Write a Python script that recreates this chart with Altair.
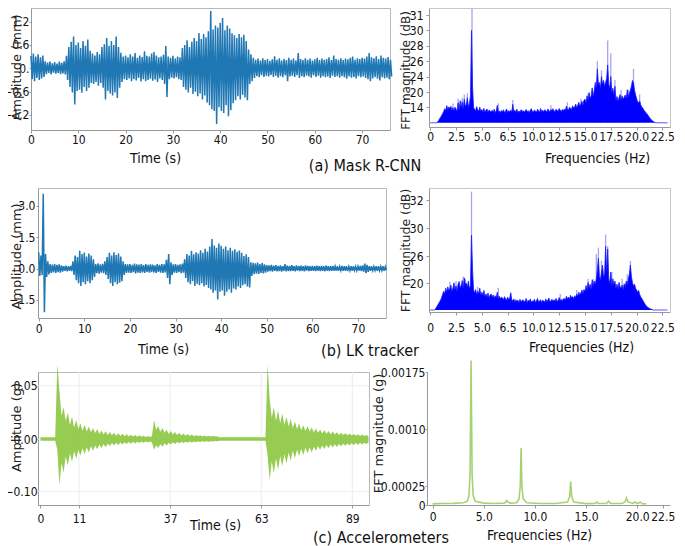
import altair as alt
import pandas as pd

NARROW = "Liberation Sans Narrow, DejaVu Sans Condensed, Lato, sans-serif"
WIDE = "DejaVu Sans, Verdana, sans-serif"

# ---------------- (a) Mask R-CNN : displacement envelope (max/min every 0.5 s) -------------
A_STEP = 0.5
A_UP = [0.32, 0.38, 0.30, 0.36, 0.28, 0.33, 0.18, 0.15, 0.17, 0.13,
        0.16, 0.12, 0.17, 0.14, 0.18, 0.32, 0.55, 0.68, 0.82, 0.60,
        0.66, 0.52, 0.70, 0.58, 0.74, 0.45, 0.38, 0.33, 0.42, 0.36,
        0.55, 0.62, 0.78, 0.58, 0.70, 0.60, 0.82, 0.55, 0.40, 0.30,
        0.33, 0.28, 0.36, 0.30, 0.39, 0.27, 0.33, 0.29, 0.44, 0.32,
        0.30, 0.38, 0.42, 0.33, 0.28, 0.30, 0.35, 0.57, 0.30, 0.27,
        0.32, 0.25, 0.30, 0.28, 0.52, 0.60, 0.72, 0.55, 0.68, 0.78,
        0.70, 0.91, 0.75, 0.88, 0.80, 0.95, 1.47, 1.00, 1.10, 1.05,
        1.17, 1.29, 0.98, 1.10, 1.02, 0.90, 0.85, 0.78, 0.88, 0.80,
        0.86, 0.70, 0.48, 0.36, 0.27, 0.22, 0.25, 0.20, 0.26, 0.21,
        0.24, 0.19, 0.23, 0.31, 0.22, 0.26, 0.20, 0.24, 0.21, 0.27,
        0.22, 0.25, 0.20, 0.39, 0.24, 0.21, 0.26, 0.22, 0.25, 0.20,
        0.23, 0.27, 0.21, 0.25, 0.22, 0.24, 0.28, 0.21, 0.33, 0.24,
        0.22, 0.26, 0.21, 0.25, 0.23, 0.27, 0.30, 0.22, 0.26, 0.24,
        0.27, 0.25, 0.30, 0.39, 0.28, 0.26, 0.31, 0.24, 0.33, 0.27,
        0.25, 0.29, 0.22]
A_LO = [-0.28, -0.33, -0.25, -0.30, -0.26, -0.22, -0.15, -0.12, -0.16, -0.11,
        -0.14, -0.12, -0.15, -0.13, -0.16, -0.30, -0.48, -0.62, -0.93, -0.58,
        -0.55, -0.63, -0.48, -0.58, -0.50, -0.38, -0.40, -0.35, -0.45, -0.38,
        -0.50, -0.80, -0.58, -0.65, -0.70, -0.62, -0.76, -0.50, -0.35, -0.28,
        -0.30, -0.26, -0.33, -0.28, -0.31, -0.25, -0.34, -0.28, -0.33, -0.30,
        -0.27, -0.32, -0.29, -0.35, -0.26, -0.30, -0.40, -0.74, -0.28, -0.24,
        -0.26, -0.23, -0.28, -0.30, -0.48, -0.55, -0.62, -0.50, -0.66, -0.60,
        -0.72, -0.65, -0.80, -0.70, -0.88, -0.95, -1.05, -1.10, -1.43, -1.00,
        -1.10, -1.15, -0.95, -1.23, -1.08, -0.90, -0.82, -0.72, -0.80, -0.68,
        -0.75, -0.82, -0.40, -0.33, -0.25, -0.20, -0.23, -0.18, -0.22, -0.19,
        -0.21, -0.17, -0.22, -0.19, -0.24, -0.20, -0.23, -0.18, -0.33, -0.21,
        -0.19, -0.22, -0.18, -0.25, -0.20, -0.23, -0.19, -0.21, -0.24, -0.18,
        -0.22, -0.19, -0.24, -0.20, -0.23, -0.21, -0.25, -0.19, -0.22, -0.20,
        -0.24, -0.20, -0.23, -0.27, -0.21, -0.24, -0.22, -0.26, -0.20, -0.23,
        -0.21, -0.25, -0.28, -0.33, -0.26, -0.22, -0.27, -0.31, -0.23, -0.26,
        -0.24, -0.28, -0.21]

# ---------------- (b) LK tracker : displacement envelope (every 0.5 s) -------------
B_STEP = 0.5
B_UP = [0.78, 0.62, 3.57, 0.70, 0.35, 0.22, 0.19, 0.21, 0.18, 0.20,
        0.15, 0.12, 0.14, 0.11, 0.13, 0.35, 0.62, 0.55, 0.85, 0.70,
        0.77, 0.58, 0.72, 0.62, 0.45, 0.22, 0.25, 0.20, 0.23, 0.35,
        0.55, 0.75, 0.62, 0.78, 0.65, 0.72, 0.58, 0.35, 0.22, 0.20,
        0.22, 0.18, 0.24, 0.20, 0.19, 0.22, 0.17, 0.21, 0.18, 0.20,
        0.19, 0.16, 0.21, 0.18, 0.22, 0.20, 0.42, 0.69, 0.30, 0.20,
        0.22, 0.18, 0.20, 0.24, 0.45, 0.70, 0.62, 0.85, 0.68, 0.78,
        0.72, 0.88, 0.75, 0.95, 0.82, 1.05, 1.41, 1.10, 1.00, 1.20,
        1.09, 0.95, 1.05, 0.88, 1.00, 0.85, 0.92, 0.80, 0.86, 0.75,
        0.60, 0.68, 0.55, 0.30, 0.28, 0.25, 0.29, 0.22, 0.26, 0.20,
        0.17, 0.15, 0.18, 0.14, 0.16, 0.13, 0.15, 0.12, 0.21, 0.14,
        0.13, 0.16, 0.12, 0.15, 0.13, 0.14, 0.12, 0.15, 0.13, 0.11,
        0.13, 0.12, 0.14, 0.11, 0.13, 0.12, 0.14, 0.11, 0.12, 0.13,
        0.11, 0.12, 0.10, 0.13, 0.11, 0.12, 0.10, 0.11, 0.12, 0.10,
        0.11, 0.13, 0.15, 0.24, 0.18, 0.12, 0.11, 0.10, 0.12, 0.11,
        0.10, 0.12, 0.09]
B_LO = [-0.35, -0.30, -2.08, -0.40, -0.28, -0.20, -0.18, -0.21, -0.17, -0.19,
        -0.14, -0.11, -0.13, -0.10, -0.12, -0.30, -0.55, -0.70, -0.83, -0.65,
        -0.75, -0.60, -0.70, -0.55, -0.40, -0.22, -0.24, -0.19, -0.22, -0.30,
        -0.50, -0.70, -0.83, -0.65, -0.75, -0.68, -0.60, -0.30, -0.21, -0.19,
        -0.21, -0.17, -0.23, -0.19, -0.20, -0.18, -0.21, -0.16, -0.19, -0.17,
        -0.18, -0.20, -0.16, -0.19, -0.21, -0.18, -0.45, -0.75, -0.30, -0.19,
        -0.20, -0.17, -0.22, -0.19, -0.45, -0.65, -0.75, -0.60, -0.83, -0.72,
        -0.80, -0.70, -0.85, -0.78, -0.92, -1.00, -1.15, -1.05, -1.47, -1.10,
        -1.05, -1.30, -1.10, -1.00, -1.15, -0.95, -1.00, -0.85, -0.92, -0.80,
        -0.75, -0.85, -0.90, -0.35, -0.27, -0.24, -0.26, -0.21, -0.23, -0.19,
        -0.14, -0.12, -0.15, -0.11, -0.13, -0.12, -0.14, -0.11, -0.13, -0.12,
        -0.12, -0.11, -0.13, -0.10, -0.12, -0.11, -0.13, -0.10, -0.12, -0.11,
        -0.11, -0.12, -0.10, -0.12, -0.11, -0.13, -0.10, -0.12, -0.11, -0.10,
        -0.10, -0.11, -0.09, -0.11, -0.10, -0.12, -0.10, -0.11, -0.09, -0.10,
        -0.10, -0.12, -0.14, -0.22, -0.16, -0.11, -0.10, -0.09, -0.11, -0.10,
        -0.09, -0.11, -0.08]

# ---------------- (a)/(b) FFT magnitude (dB), every 0.1 Hz, plus light spikes -------------
F_STEP = 0.1
SA_DB = [8, 8, 8, 8, 8, 8, 8, 8.3, 8.8, 9.5,
         10.2, 10.8, 11.5, 12.4, 13.5, 12.8, 14.6, 13.2, 14.2, 13.6,
         14.4, 13.0, 13.9, 12.8, 14.1, 13.3, 12.6, 15.8, 13.1, 16.6,
         14.0, 16.2, 13.5, 17.2, 14.5, 15.0, 17.8, 14.2, 15.5, 18.5,
         30.0, 21.5, 14.0, 13.2, 12.8, 14.3, 13.0, 12.6, 14.1, 12.5,
         13.2, 12.4, 13.6, 12.2, 12.9, 13.4, 12.1, 13.0, 12.5, 12.3,
         12.9, 12.2, 13.3, 12.0, 12.7, 14.8, 12.3, 12.6, 12.0, 12.8,
         12.2, 13.1, 12.0, 12.5, 13.4, 12.1, 12.7, 12.3, 13.0, 12.1,
         15.2, 12.5, 12.9, 12.2, 13.3, 12.0, 12.6, 12.2, 13.1, 12.4,
         12.8, 12.1, 12.6, 13.2, 12.3, 12.7, 12.0, 12.9, 13.5, 12.4,
         12.2, 13.0, 12.5, 12.1, 13.3, 12.6, 12.2, 13.6, 12.4, 12.9,
         12.3, 13.1, 12.6, 12.2, 13.4, 12.8, 12.3, 13.2, 12.7, 13.5,
         12.6, 12.4, 13.3, 12.8, 12.5, 13.6, 12.9, 12.4, 13.2, 12.7,
         13.4, 12.8, 14.5, 13.2, 13.0, 14.1, 13.6, 13.3, 14.6, 13.8,
         14.2, 15.3, 13.9, 14.8, 16.0, 14.5, 15.2, 16.4, 15.0, 16.8,
         17.2, 16.0, 18.5, 17.0, 19.8, 17.6, 18.4, 21.0, 18.2, 20.5,
         22.5, 21.0, 25.0, 22.0, 22.5, 21.0, 24.0, 22.0, 23.0, 21.5,
         22.5, 23.5, 25.5, 22.0, 21.0, 24.0, 20.0, 21.0, 19.0, 21.5,
         17.0, 18.2, 16.5, 17.8, 19.0, 16.8, 18.5, 17.2, 18.0, 18.8,
         17.5, 20.6, 18.0, 19.5, 20.5, 21.5, 23.0, 22.5, 20.5, 19.0,
         17.5, 16.2, 15.8, 16.5, 15.0, 14.2, 13.8, 13.0, 12.5, 12.0,
         11.5, 11.0, 10.4, 9.8, 9.3, 8.9, 8.6, 8.3, 8.1, 8.0,
         8, 8, 8, 8, 8, 8, 8, 8, 8, 8,
         8]
SA_FLOOR = 8
SA_PEAK_F = [1.6, 2.2, 2.7, 3.1, 3.3, 3.6, 4.05, 6.6, 8.0, 11.7, 13.3, 14.6, 15.3,
             15.7, 16.2, 16.6, 17.2, 17.5, 17.9, 18.5, 19.2, 19.7, 20.3]
SA_PEAK_DB = [14.8, 15.5, 17.5, 17.8, 19.0, 19.5, 31.4, 15.6, 16.9, 14.8, 16.0, 17.5, 19.5,
              21.2, 26.0, 24.8, 28.7, 27.0, 23.1, 20.5, 20.6, 25.0, 19.0]

SB_DB = [14, 14, 14, 14, 14, 14.2, 14.6, 15.0, 15.4, 15.8,
         16.2, 16.8, 17.5, 18.2, 17.6, 18.9, 18.1, 19.2, 18.4, 18.8,
         19.6, 18.2, 18.9, 20.1, 18.6, 19.4, 18.3, 19.8, 20.4, 19.0,
         19.5, 20.6, 19.0, 21.2, 19.8, 20.0, 19.2, 20.5, 18.8, 19.5,
         29.0, 23.0, 18.5, 17.8, 18.6, 17.5, 18.2, 17.6, 18.9, 17.4,
         18.0, 17.3, 18.4, 17.1, 17.6, 17.0, 17.8, 16.8, 17.3, 17.6,
         16.9, 17.4, 16.7, 17.2, 16.8, 18.0, 16.6, 17.1, 16.5, 16.9,
         16.7, 16.3, 17.0, 16.5, 16.2, 16.9, 16.4, 16.6, 17.8, 16.3,
         16.1, 16.5, 15.8, 16.3, 15.9, 16.2, 15.7, 16.4, 15.9, 16.1,
         16.3, 15.8, 16.0, 16.6, 15.7, 16.2, 15.9, 16.5, 15.8, 16.0,
         15.9, 16.4, 15.7, 16.1, 16.6, 15.8, 16.0, 16.3, 15.7, 16.2,
         16.0, 15.8, 16.5, 15.9, 16.2, 16.7, 15.8, 16.1, 16.4, 15.9,
         16.3, 16.0, 16.6, 15.9, 16.2, 16.8, 16.1, 16.4, 16.0, 16.5,
         16.6, 16.2, 17.1, 16.5, 16.9, 16.4, 17.3, 16.8, 17.0, 16.6,
         17.2, 16.8, 17.6, 17.1, 18.0, 17.4, 17.8, 18.5, 17.7, 18.6,
         18.2, 19.5, 18.6, 20.2, 19.0, 19.8, 18.8, 20.8, 19.4, 20.5,
         19.8, 21.0, 23.0, 25.5, 21.5, 20.8, 22.5, 24.0, 21.5, 22.0,
         27.4, 22.5, 27.0, 21.0, 20.0, 22.5, 19.5, 21.0, 19.8, 20.5,
         19.0, 19.8, 18.8, 20.2, 19.2, 18.9, 19.6, 18.6, 19.9, 19.3,
         20.5, 19.6, 21.0, 22.0, 24.0, 21.5, 20.2, 19.4, 19.8, 18.9,
         18.5, 18.0, 18.4, 17.5, 17.0, 16.6, 16.2, 15.8, 15.4, 15.0,
         14.8, 14.6, 14.4, 14.3, 14.2, 14.1, 14.0, 14.0, 14.0, 14.0,
         14, 14, 14, 14, 14, 14, 14, 14, 14, 14,
         14]
SB_FLOOR = 14
SB_PEAK_F = [1.9, 2.5, 3.2, 3.4, 4.0, 4.6, 6.6, 7.8, 12.6, 14.2, 15.3, 15.8,
             16.1, 16.3, 16.6, 17.0, 17.2, 17.6, 18.6, 19.1, 19.4]
SB_PEAK_DB = [20.3, 20.5, 21.5, 21.0, 32.6, 19.2, 19.0, 18.0, 17.6, 18.5, 21.0, 20.9,
              26.3, 27.2, 25.0, 29.1, 27.4, 22.5, 21.0, 22.0, 24.9]

# ---------------- (c) Accelerometers : acceleration envelope (every 0.6 s) -------------
C_STEP = 0.6
C_UP = [0.002, 0.002, 0.002, 0.002, 0.002, 0.002, 0.002, 0.002,
        0.07, 0.045, 0.022, 0.030, 0.017, 0.025, 0.013, 0.021, 0.011, 0.018,
        0.0095, 0.015, 0.008, 0.0135, 0.0072, 0.012, 0.0065, 0.0105, 0.0058, 0.0095,
        0.005, 0.0082, 0.0045, 0.0075, 0.004, 0.0068, 0.0037, 0.0062, 0.0034, 0.0057,
        0.0031, 0.0052, 0.0029, 0.0047, 0.0027, 0.0043, 0.0025, 0.0040, 0.0024, 0.0037,
        0.0023, 0.0034, 0.0022, 0.0031, 0.0021, 0.0028,
        0.018, 0.009, 0.0125, 0.007, 0.0105, 0.006, 0.009, 0.005, 0.0078, 0.0045,
        0.0068, 0.004, 0.006, 0.0036, 0.0054, 0.0033, 0.0049, 0.0031, 0.0045, 0.0029,
        0.0041, 0.0028, 0.0038, 0.0027, 0.0035, 0.0026, 0.0033, 0.0026, 0.0031, 0.0025,
        0.0029,
        0.002, 0.002, 0.002, 0.002, 0.002, 0.002, 0.002, 0.002, 0.002, 0.002,
        0.002, 0.002, 0.002, 0.002, 0.002, 0.002, 0.002, 0.002, 0.002, 0.002,
        0.002, 0.002, 0.002,
        0.07, 0.037, 0.020, 0.030, 0.017, 0.027, 0.015, 0.024, 0.013, 0.021,
        0.012, 0.019, 0.0105, 0.0165, 0.0095, 0.0148, 0.0085, 0.013, 0.0078, 0.0122,
        0.0072, 0.011, 0.0066, 0.010, 0.006, 0.0092, 0.0055, 0.0085, 0.0051, 0.0078,
        0.0047, 0.0072, 0.0044, 0.0066, 0.0041, 0.0061, 0.0039, 0.0057, 0.0037, 0.0053,
        0.0035, 0.0050, 0.0033, 0.0047, 0.0031, 0.0044, 0.0030, 0.0041, 0.0029]
C_LO = [-0.003, -0.003, -0.003, -0.003, -0.003, -0.003, -0.003, -0.003,
        -0.02, -0.087, -0.045, -0.063, -0.033, -0.050, -0.027, -0.043, -0.023, -0.037,
        -0.020, -0.031, -0.017, -0.028, -0.015, -0.025, -0.013, -0.022, -0.012, -0.019,
        -0.010, -0.017, -0.009, -0.015, -0.008, -0.013, -0.0072, -0.012, -0.0066, -0.011,
        -0.006, -0.010, -0.0056, -0.0092, -0.0052, -0.0085, -0.0048, -0.0078, -0.0045, -0.0072,
        -0.0043, -0.0066, -0.0041, -0.0060, -0.0040, -0.0055,
        -0.020, -0.012, -0.0165, -0.009, -0.014, -0.0075, -0.012, -0.0065, -0.010, -0.0058,
        -0.009, -0.0052, -0.008, -0.0048, -0.0072, -0.0045, -0.0066, -0.0042, -0.0060, -0.0040,
        -0.0056, -0.0038, -0.0052, -0.0037, -0.0049, -0.0036, -0.0046, -0.0035, -0.0043, -0.0034,
        -0.0040,
        -0.003, -0.003, -0.003, -0.003, -0.003, -0.003, -0.003, -0.003, -0.003, -0.003,
        -0.003, -0.003, -0.003, -0.003, -0.003, -0.003, -0.003, -0.003, -0.003, -0.003,
        -0.003, -0.003, -0.003,
        -0.03, -0.078, -0.042, -0.065, -0.036, -0.058, -0.032, -0.051, -0.028, -0.046,
        -0.025, -0.041, -0.022, -0.036, -0.020, -0.032, -0.018, -0.030, -0.016, -0.027,
        -0.015, -0.025, -0.014, -0.022, -0.013, -0.020, -0.012, -0.0185, -0.011, -0.017,
        -0.010, -0.0155, -0.0095, -0.0145, -0.009, -0.0135, -0.0085, -0.0125, -0.008, -0.0118,
        -0.0076, -0.011, -0.0072, -0.0104, -0.0068, -0.0098, -0.0065, -0.0092, -0.0062]

# ---------------- (c) FFT magnitude (g) -------------
SC_F = [0.0, 0.5, 1.0, 2.0, 3.0, 3.4, 3.55, 3.66, 3.76, 3.86, 3.97, 4.15, 5.0, 6.0,
        7.0, 7.15, 7.25, 7.35, 7.6, 8.2, 8.45, 8.57, 8.65, 8.73, 8.85, 9.2, 10.5, 12.0,
        13.2, 13.4, 13.5, 13.6, 13.8, 15.0, 15.9, 16.05, 16.2, 17.0, 17.2, 17.4, 18.5,
        18.8, 18.96, 19.1, 19.6, 19.8, 20.0, 20.2, 20.3, 20.45, 20.9]
SC_G = [0.000015, 0.000018, 0.00002, 0.000022, 0.00003, 0.00005, 0.00012, 0.0004,
        0.0019, 0.0004, 0.00012, 0.00005, 0.000025, 0.00002, 0.000025, 0.00004, 0.00006,
        0.00004, 0.000025, 0.00003, 0.00008, 0.00025, 0.00075, 0.00025, 0.00008, 0.00003,
        0.00002, 0.00002, 0.00004, 0.00011, 0.00031, 0.00011, 0.00004, 0.000018, 0.00002,
        0.00004, 0.00002, 0.00002, 0.00005, 0.00002, 0.00002, 0.00004, 0.00009, 0.00004,
        0.00002, 0.00004, 0.00002, 0.00003, 0.00004, 0.00002, 0.000015]

C_GRID_T = [11, 37, 63, 89]
C_GRID_V = [-0.10, 0.0, 0.05]

CAPTIONS = ["(a) Mask R-CNN", "(b) LK tracker", "(c) Accelerometers"]

# ---------------- data frames ----------------
def zigzag_df(step, up, lo):
    rows = []
    for i, (u, l) in enumerate(zip(up, lo)):
        rows.append({"t": round(i * step, 3), "v": u, "o": 2 * i})
        rows.append({"t": round(i * step + step / 2, 3), "v": l, "o": 2 * i + 1})
    return pd.DataFrame(rows)

def env_df(step, up, lo):
    return pd.DataFrame({"t": [round(i * step, 3) for i in range(len(up))], "up": up, "lo": lo})

def spec_df(vals, floor):
    return pd.DataFrame({"f": [round(i * F_STEP, 2) for i in range(len(vals))],
                         "v": vals, "floor": [floor] * len(vals)})

def peak_df(fs, vs, floor):
    return pd.DataFrame({"f": fs, "v": vs, "floor": [floor] * len(fs)})

df_a = zigzag_df(A_STEP, A_UP, A_LO)
df_b = zigzag_df(B_STEP, B_UP, B_LO)
df_c = env_df(C_STEP, C_UP, C_LO)
df_sa = spec_df(SA_DB, SA_FLOOR)
df_sb = spec_df(SB_DB, SB_FLOOR)
df_pa = peak_df(SA_PEAK_F, SA_PEAK_DB, SA_FLOOR)
df_pb = peak_df(SB_PEAK_F, SB_PEAK_DB, SB_FLOOR)
df_sc = pd.DataFrame({"f": SC_F, "v": SC_G})

# ---------------- one drawing area; every panel gets its own scales ----------------
PADL = 3
W, H = 666, 498
LBL = 12
LBL_Y = 12
RX = 659  # right edge of the right-hand panels

def sc(domain, rng):
    return alt.Scale(domain=domain, range=rng, nice=False, zero=False)

SX_AL, SY_AL = sc([0, 75.9], [20, 379]), sc([-1.586, 1.55], [122, 0])
SX_AR = sc([-0.12, 23.24], [418, RX])
SY_AR = sc([6.36, 14, 20, 24, 26, 28, 30, 31, 31.45], [119, 99.4, 84, 68.6, 53.2, 37.8, 22.4, 7, 0])
SX_BL, SY_BL = sc([-0.15, 76.15], [27, 375]), sc([-2.36, 3.85], [310, 180])
SX_BR = sc([-0.12, 23.24], [418, RX])
SY_BR = sc([13.56, 14, 20, 26, 30, 32, 32.86], [304, 302, 275.3, 248, 220.3, 192, 180])
SX_CL = sc([-0.71, 93.75], [27, 358])
SY_CL = sc([-0.1254, -0.10, 0, 0.05, 0.0628], [497, 483.7, 431.3, 377.7, 364])
SX_CR, SY_CR = sc([-0.55, 23.21], [416, RX]), sc([0, 0.00175], [497, 364])


def xaxis(values, expr, title, offset, tx, ty, tick=3, pad=1):
    return alt.Axis(orient="bottom", offset=offset, values=values, labelExpr=expr, title=title,
                    titleX=tx, titleY=ty, titleAlign="center", titleBaseline="middle", titleAngle=0,
                    titleFont=NARROW, titleFontSize=14, titleFontWeight="normal", titleColor="#111",
                    labelFont=NARROW, labelFontSize=LBL, labelColor="#111", labelFlush=False,
                    labelOverlap=False, labelPadding=pad, tickSize=tick, tickColor="#999",
                    domainColor="#999", grid=False)

def yaxis(values, expr, title, offset, tx, ty, tick=2, pad=1, tsize=13):
    return alt.Axis(orient="left", offset=offset, values=values, labelExpr=expr, title=title,
                    titleX=tx, titleY=ty, titleAlign="center", titleBaseline="middle", titleAngle=270,
                    titleFont=WIDE, titleFontSize=tsize, titleFontWeight="normal", titleColor="#222",
                    labelFont=NARROW, labelFontSize=LBL_Y, labelColor="#111", labelFlush=False,
                    labelOverlap=False, labelPadding=pad, tickSize=tick, tickColor="#999",
                    domainColor="#999", grid=False)

def frame_layer(sx, sy, y0, x1, color="#b8b8b8"):
    # top and right borders of a panel, drawn as label-less axes
    dom_x, dom_y = sx.domain, sy.domain
    d = pd.DataFrame({"x": [dom_x[0], dom_x[-1]], "y": [dom_y[0], dom_y[-1]]})
    return alt.Chart(d).mark_point(opacity=0).encode(
        x=alt.X("x:Q", scale=sx, axis=alt.Axis(orient="top", offset=-y0, labels=False, ticks=False,
                                               title="", grid=False, domainColor=color)),
        y=alt.Y("y:Q", scale=sy, axis=alt.Axis(orient="right", offset=x1 - W, labels=False, ticks=False,
                                               title="", grid=False, domainColor=color)),
    )

def caption(text, px, py):
    return alt.Chart(pd.DataFrame({"label": [text]})).mark_text(
        font=NARROW, fontSize=16, color="#111", align="center", baseline="middle"
    ).encode(text="label:N", x=alt.value(px), y=alt.value(py))

FREQ_TICKS = [0, 2.5, 5, 7.5, 10, 12.5, 15, 17.5, 20, 22.5]
FREQ_EXPR = "datum.value == 0 ? '0' : (datum.value == 7.5 ? '6.5' : format(datum.value, '.1f'))"
TIME_TICKS = [0, 10, 20, 30, 40, 50, 60, 70]
INT_EXPR = "format(datum.value, 'd')"
BLUE = "#1f77b4"

layers = []

# ---- (a) left: Mask R-CNN displacement ----
layers.append(alt.Chart(df_a).mark_line(color=BLUE, strokeWidth=1.5, clip=True).encode(
    x=alt.X("t:Q", scale=SX_AL, axis=xaxis(TIME_TICKS, INT_EXPR, "Time (s)", 122 - H, 144, 28)),
    y=alt.Y("v:Q", scale=SY_AL, axis=yaxis([-1.2, -0.6, 0, 0.6, 1.2],
                                           "datum.value == 0 ? '0.' : format(datum.value, '.1f')",
                                           "Amplitude (mm)", -20, -15, 59, tick=2, pad=0)),
    order="o:Q"))
layers.append(frame_layer(SX_AL, SY_AL, 0, 379))

# ---- (a) right: FFT (dB) ----
layers.append(alt.Chart(df_pa).mark_rule(color="#a4a4f0", strokeWidth=1.3, clip=True).encode(
    x=alt.X("f:Q", scale=SX_AR, axis=None), y=alt.Y("v:Q", scale=SY_AR, axis=None), y2="floor:Q"))
layers.append(alt.Chart(df_sa).mark_area(color="#0000ff", clip=True).encode(
    x=alt.X("f:Q", scale=SX_AR, axis=None), y=alt.Y("v:Q", scale=SY_AR, axis=None), y2="floor:Q"))
layers.append(alt.Chart(df_sa).mark_line(color="#1a1aff", strokeWidth=0.8, clip=True).encode(
    x=alt.X("f:Q", scale=SX_AR, axis=xaxis(FREQ_TICKS, FREQ_EXPR, "Frequencies (Hz)", 119 - H, 586, 31)),
    y=alt.Y("v:Q", scale=SY_AR, axis=yaxis([14, 20, 24, 26, 28, 30, 31], INT_EXPR,
                                           "FFT magnitude (dB)", -418, -24, 62, tick=3, pad=3, tsize=12))))
layers.append(frame_layer(SX_AR, SY_AR, 0, RX, color="#c8c8c8"))

# ---- (b) left: LK tracker displacement ----
layers.append(alt.Chart(df_b).mark_line(color=BLUE, strokeWidth=1.5, clip=True).encode(
    x=alt.X("t:Q", scale=SX_BL, axis=xaxis(TIME_TICKS, INT_EXPR, "Time (s)", 310 - H, 152, 31, pad=2)),
    y=alt.Y("v:Q", scale=SY_BL, axis=yaxis([-1.5, 0, 1.5, 3.0], "format(datum.value, '.1f')",
                                           "Amplitude (mm)", -27, -22, 248, tick=2, pad=1)),
    order="o:Q"))
layers.append(frame_layer(SX_BL, SY_BL, 180, 375))

# ---- (b) right: FFT (dB) ----
layers.append(alt.Chart(df_pb).mark_rule(color="#a4a4f0", strokeWidth=1.3, clip=True).encode(
    x=alt.X("f:Q", scale=SX_BR, axis=None), y=alt.Y("v:Q", scale=SY_BR, axis=None), y2="floor:Q"))
layers.append(alt.Chart(df_sb).mark_area(color="#0000ff", clip=True).encode(
    x=alt.X("f:Q", scale=SX_BR, axis=None), y=alt.Y("v:Q", scale=SY_BR, axis=None), y2="floor:Q"))
layers.append(alt.Chart(df_sb).mark_line(color="#1a1aff", strokeWidth=0.8, clip=True).encode(
    x=alt.X("f:Q", scale=SX_BR, axis=xaxis(FREQ_TICKS, FREQ_EXPR, "Frequencies (Hz)", 304 - H, 570, 35, pad=7)),
    y=alt.Y("v:Q", scale=SY_BR, axis=yaxis([20, 26, 30, 32], INT_EXPR,
                                           "FFT magnitude (dB)", -418, -24, 242, tick=3, pad=3, tsize=12.5))))
layers.append(frame_layer(SX_BR, SY_BR, 180, RX, color="#c8c8c8"))

# ---- (c) left: accelerometer ----
df_vgrid = pd.DataFrame({"t": C_GRID_T, "lo": [-0.1254] * len(C_GRID_T), "hi": [0.0628] * len(C_GRID_T)})
df_hgrid = pd.DataFrame({"v": C_GRID_V, "t0": [-0.71] * len(C_GRID_V), "t1": [93.75] * len(C_GRID_V)})
layers.append(alt.Chart(df_vgrid).mark_rule(color="#ececec", strokeWidth=1).encode(
    x=alt.X("t:Q", scale=SX_CL, axis=None), y=alt.Y("lo:Q", scale=SY_CL, axis=None), y2="hi:Q"))
layers.append(alt.Chart(df_hgrid).mark_rule(color="#ececec", strokeWidth=1).encode(
    y=alt.Y("v:Q", scale=SY_CL, axis=None), x=alt.X("t0:Q", scale=SX_CL, axis=None), x2="t1:Q"))
layers.append(alt.Chart(df_c).mark_area(color="#8cc63f", opacity=0.9, clip=True).encode(
    x=alt.X("t:Q", scale=SX_CL, axis=xaxis([0, 11, 37, 63, 89], INT_EXPR, "Time (s)", 497 - H, 204, 20, pad=5)),
    y=alt.Y("up:Q", scale=SY_CL, axis=yaxis([-0.10, 0, 0.05], "format(datum.value, '.2f')",
                                            "Amplitude (g)", -27, -22, 419, tick=1, pad=0)),
    y2="lo:Q"))
layers.append(frame_layer(SX_CL, SY_CL, 364, 358))

# ---- (c) right: FFT (g) ----
layers.append(alt.Chart(df_sc).mark_line(color="#a6d276", strokeWidth=1.6, clip=True).encode(
    x=alt.X("f:Q", scale=SX_CR, axis=xaxis([0, 5, 10, 15, 20, 22.5],
                                           "datum.value == 0 ? '0' : format(datum.value, '.1f')",
                                           "Frequencies (Hz)", 497 - H, 528, 30, pad=3)),
    y=alt.Y("v:Q", scale=SY_CR, axis=yaxis([0, 0.00025, 0.001, 0.00175],
                                           "datum.value == 0 ? '0' : (datum.value == 0.001 ? '0.0010' : format(datum.value, '.5f'))",
                                           "FFT magnitude (g)", -416, -49, 425, tick=2, pad=0))))

# ---- captions ----
layers.append(caption(CAPTIONS[0], 354, 158))
layers.append(caption(CAPTIONS[1], 359, 343))
layers.append(caption(CAPTIONS[2], 370, 530))

chart = alt.layer(*layers).resolve_scale(x="independent", y="independent").properties(
    width=W, height=H, autosize=alt.AutoSizeParams(type="none"),
    padding={"left": PADL, "top": 0, "right": 0, "bottom": 48}, background="white"
).configure_view(stroke="transparent")

chart.save("out.html", embed_options={"renderer": "svg", "actions": False})
